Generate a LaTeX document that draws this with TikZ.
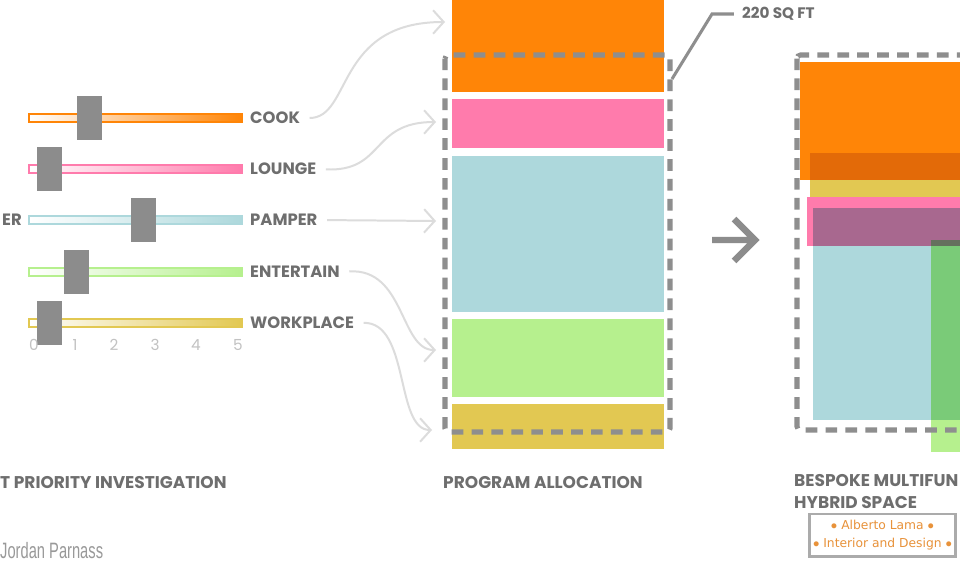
\documentclass[tikz,border=0pt]{standalone}
\usepackage{fontspec}
\setmainfont{Poppins}
\newfontfamily\markfont{DejaVu Sans}
\newfontfamily\signfont{Liberation Sans}
\usetikzlibrary{arrows.meta}
\definecolor{cookc}{HTML}{FF8507}
\definecolor{loungec}{HTML}{FF7BAC}
\definecolor{pamperc}{HTML}{ADD8DC}
\definecolor{entc}{HTML}{B6F08E}
\definecolor{workc}{HTML}{E2C852}
\definecolor{mixorange}{HTML}{E36A08}
\definecolor{mixpurple}{HTML}{A8688F}
\definecolor{mixdark}{HTML}{65705E}
\definecolor{mixgreen}{HTML}{7ACB78}
\definecolor{txtgray}{HTML}{6E6E6E}
\definecolor{knobgray}{HTML}{8C8C8C}
\definecolor{dashgray}{HTML}{8E8E8E}
\definecolor{conngray}{HTML}{DCDCDC}
\definecolor{tickgray}{HTML}{C2C2C2}
\definecolor{markc}{HTML}{E8923A}
\tikzset{
  lbl/.style={anchor=west, inner sep=0pt, text=txtgray, font=\fontsize{14}{16}\selectfont\bfseries},
  ttl/.style={lbl, font=\fontsize{14.5}{19}\selectfont\bfseries, align=left},
  conn/.style={draw=conngray, line width=1.7pt, shorten <=8pt, -{Straight Barb[length=9pt,width=20pt,line width=1.7pt]}},
  knob/.style={fill=knobgray},
  dashbox/.style={draw=dashgray, line width=4.3pt, dash pattern=on 10pt off 7pt, rounded corners=3pt},
}
\begin{document}
\begin{tikzpicture}[x=0.03cm, y=-0.03cm]
	\def\tx{29} \def\tw{242} % track ends
	\useasboundingbox (0,0) rectangle (960,562);
	\fill[white] (0,0) rectangle (960,562);
	\clip (0,0) rectangle (960,562);
	% sliders
	\foreach \name/\lab/\col/\y/\k in {cook/COOK/cookc/118/89, lounge/LOUNGE/loungec/169/49.5,
		pamper/PAMPER/pamperc/220/143.5, ent/ENTERTAIN/entc/272/76, work/WORKPLACE/workc/323/49.5}{
		\shade[left color=white, right color=\col, draw=\col, line width=0.9pt] (\tx,\y-4) rectangle (\tw,\y+4);
		\fill[knob] (\k-12.5,\y-22) rectangle (\k+12.5,\y+22);
		\node[lbl] (\name) at (250,\y) {\lab};
	}
	\node[lbl, anchor=east] (cut) at (22,220) {ER};
	\foreach \i/\xi in {0/34,1/75,2/114,3/155,4/196,5/238}
		\node[text=tickgray, font=\fontsize{13}{14}\selectfont] (t\i) at (\xi,345) {\i};
	% program allocation
	\fill[cookc] (452,-5) rectangle (664,92);
	\fill[loungec] (452,99) rectangle (664,148);
	\fill[pamperc] (452,156) rectangle (664,312);
	\fill[entc] (452,319) rectangle (664,397);
	\fill[workc] (452,404) rectangle (664,449);
	\draw[dashbox] (445,55) rectangle (670,432);
	\coordinate (acook) at (445,22);
	\coordinate (alounge) at (436,122);
	\coordinate (apamper) at (436,221);
	\coordinate (aent) at (436,350);
	\coordinate (awork) at (432,430);
	\draw[conn] (cook.east) .. controls (352,118) and (335,22) .. (acook);
	\draw[conn] (lounge.east) .. controls (385,172) and (370,122) .. (alounge);
	\draw[conn] (pamper.east) -- (apamper);
	\draw[conn] (ent.east) .. controls (405,268) and (400,350) .. (aent);
	\draw[conn] (work.east) .. controls (410,322) and (395,430) .. (awork);
	% area callout
	\node[lbl, font=\fontsize{13}{14}\selectfont\bfseries] (sqft) at (742,14) {220 SQ FT};
	\coordinate (edge) at (672,79);
	\draw[dashgray, line width=2.6pt] (edge) -- (712,14) -- ([xshift=-7pt]sqft.west);
	% big arrow
	\draw[knobgray, line width=5.5pt] (712,240) -- (754,240) (734,219) -- (755,240) -- (734,261);
	% bespoke hybrid space
	\fill[cookc] (800,62) rectangle (965,180);
	\fill[mixorange] (810,153) rectangle (965,180);
	\fill[workc] (810,180) rectangle (965,197);
	\fill[loungec] (807,197) rectangle (965,246);
	\fill[mixpurple] (813,208) rectangle (965,246);
	\fill[pamperc] (813,246) rectangle (931,420);
	\fill[mixdark] (931,240) rectangle (965,246);
	\fill[mixgreen] (931,246) rectangle (965,420);
	\fill[entc] (931,420) rectangle (965,452);
	\draw[dashbox] (797,55) rectangle (990,430);
	% titles
	\node[ttl] (t1) at (0,483) {T PRIORITY INVESTIGATION};
	\node[ttl] (t2) at (443,483) {PROGRAM ALLOCATION};
	\node[ttl, anchor=north west] (t3) at (794,474) {BESPOKE MULTIFUN\\HYBRID SPACE};
	\node[anchor=west, inner sep=0pt, text=black!40, font=\signfont\fontsize{19}{20}\selectfont] (sign) at (0,551) {\scalebox{0.66}[1]{Jordan Parnass}};
	% watermark
	\node[draw=black!33, line width=2.4pt, fill=white, minimum width=118pt, minimum height=36pt, text=markc, font=\markfont\fontsize{10.5}{15}\selectfont, align=center] (mark) at (882.5,535) {$\bullet$ Alberto Lama $\bullet$\\$\bullet$ Interior and Design $\bullet$};
\end{tikzpicture}
\end{document}
